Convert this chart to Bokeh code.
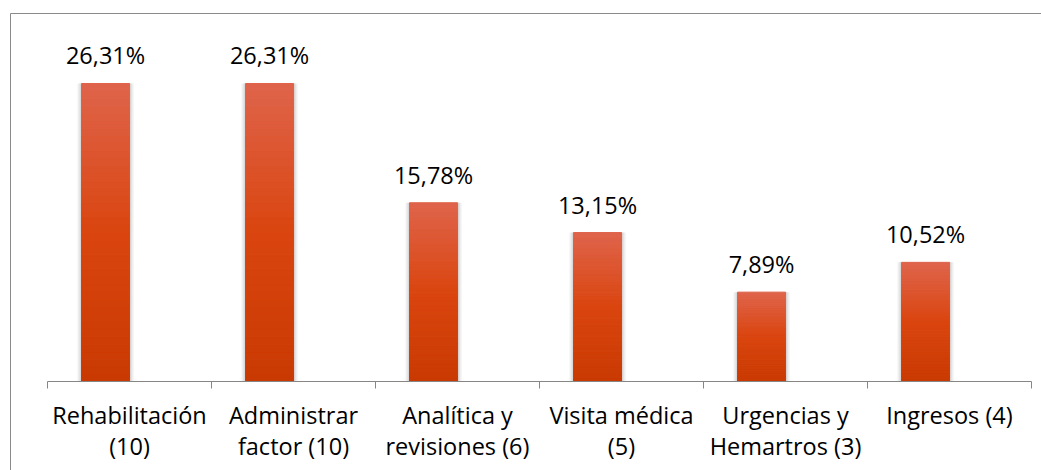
from bokeh.plotting import figure
from bokeh.models import ColumnDataSource, FixedTicker, Range1d
from bokeh.core.properties import value
from bokeh.embed import file_html
from bokeh.resources import INLINE

categories = ["Rehabilitación\n(10)", "Administrar\nfactor (10)", "Analítica y\nrevisiones (6)",
              "Visita médica\n(5)", "Urgencias y\nHemartros (3)", "Ingresos (4)"]
percentages = [26.31, 26.31, 15.78, 13.15, 7.89, 10.52]
value_labels = ["26,31%", "26,31%", "15,78%", "13,15%", "7,89%", "10,52%"]

FONT = "Open Sans"
W, H = 1041, 470
n = len(categories)

# layout in pixels
ax_left, ax_right, ax_y = 47, 1031, 381
cat_px = (ax_right - ax_left) / n
py = 11.327            # pixels per percent
border_x, border_y = 10, 13

x0 = -ax_left / cat_px
x1 = (W - ax_left) / cat_px
y1 = ax_y / py
y0 = -(H - ax_y) / py

offset = 0.354          # bar centre within category (clustered with hidden second series)
bw = 48 / cat_px
px = 1 / cat_px

p = figure(width=W, height=H, output_backend="svg", toolbar_location=None,
           x_range=Range1d(x0, x1), y_range=Range1d(y0, y1), y_axis_location=None,
           min_border=0, min_border_left=0, min_border_right=0, min_border_top=0, min_border_bottom=0)
p.outline_line_color = None
p.background_fill_color = "white"
p.border_fill_color = "white"
p.xgrid.visible = False
p.ygrid.visible = False

# chart border (left and top, rest is outside the window)
bxl = x0 + border_x / cat_px
byt = y1 - border_y / py
p.line(x=[bxl, bxl, x1 + 1], y=[y0 - 1, byt, byt], line_color="#8a8a8a", line_width=1)

xs = [i + offset for i in range(n)]

# soft shadow
sh = ColumnDataSource(dict(x=xs, top=percentages))
p.vbar(x="x", top="top", bottom=0, width=bw + 8 * px, source=sh, fill_color="#efefef", line_color=None)
p.vbar(x="x", top="top", bottom=0, width=bw + 4 * px, source=sh, fill_color="#d9d9d9", line_color=None)

def lerp(c1, c2, t):
    return tuple(int(round(a + (b - a) * t)) for a, b in zip(c1, c2))

bottom_c = (201, 58, 2)
mid_c = (218, 69, 15)
top_c = (223, 100, 75)
N = 40
gx, gb, gt, gc = [], [], [], []
for i, v in enumerate(percentages):
    for k in range(N):
        t = (k + 0.5) / N
        if t < 0.5:
            c = lerp(bottom_c, mid_c, t / 0.5)
        else:
            c = lerp(mid_c, top_c, (t - 0.5) / 0.5)
        gx.append(xs[i])
        gb.append(v * k / N)
        gt.append(v * (k + 1) / N)
        gc.append("#%02x%02x%02x" % c)
p.vbar(x=gx, bottom=gb, top=gt, width=bw, fill_color=gc, line_color=gc, line_width=1)

lab = ColumnDataSource(dict(x=xs, y=percentages, t=value_labels))
p.text(x="x", y="y", text="t", source=lab, text_align="center", text_baseline="alphabetic",
       y_offset=-28, text_font=value(FONT), text_font_size="23.5px", text_color="#000000")

centers = [i + 0.5 for i in range(n)]
p.xaxis.fixed_location = 0
p.xaxis.ticker = FixedTicker(ticks=centers, minor_ticks=list(range(n + 1)))
p.xaxis.major_label_overrides = {c: lab_ for c, lab_ in zip(centers, categories)}
p.xaxis.major_tick_out = 0
p.xaxis.major_tick_in = 0
p.xaxis.minor_tick_out = 7
p.xaxis.minor_tick_in = 0
p.xaxis.axis_line_color = "#868686"
p.xaxis.minor_tick_line_color = "#868686"
p.xaxis.major_label_text_font = FONT
p.xaxis.major_label_text_font_size = "23.5px"
p.xaxis.major_label_text_color = "#000000"
p.xaxis.major_label_text_line_height = 0.97
p.xaxis.major_label_standoff = 10
p.xaxis.major_label_orientation = "horizontal"

# axis line only across the category span
p.xaxis.bounds = (0, n)

open("out.html", "w").write(file_html(p, INLINE))
